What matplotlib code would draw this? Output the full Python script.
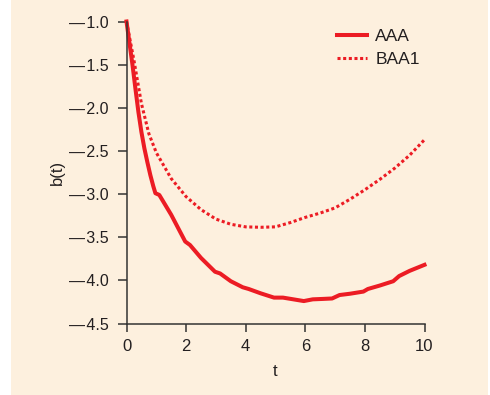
import matplotlib
matplotlib.use("Agg")
import matplotlib.pyplot as plt
from matplotlib.patches import Rectangle

# ---- data ----
t_aaa = [0, 0.1, 0.2, 0.3, 0.4, 0.5, 0.6, 0.7, 0.8, 0.9, 0.97, 1.1, 1.5, 1.97,
         2.13, 2.5, 2.97, 3.14, 3.5, 3.9, 4.1, 4.5, 4.95, 5.25, 5.6, 5.95,
         6.25, 6.6, 6.9, 7.15, 7.5, 7.95, 8.1, 8.5, 8.95, 9.15, 9.5, 10]
b_aaa = [-1.0, -1.25, -1.5, -1.78, -2.05, -2.28, -2.47, -2.63, -2.78, -2.91,
         -2.99, -3.01, -3.24, -3.55, -3.59, -3.74, -3.90, -3.92, -4.01, -4.08,
         -4.10, -4.15, -4.20, -4.20, -4.22, -4.24, -4.22, -4.215, -4.21, -4.17,
         -4.155, -4.13, -4.10, -4.06, -4.01, -3.95, -3.89, -3.82]

t_baa = [0, 0.25, 0.5, 0.75, 1, 1.5, 2, 2.5, 3, 3.5, 4, 4.5, 5, 5.5, 6, 6.5,
         7, 7.5, 8, 8.5, 9, 9.5, 10]
b_baa = [-1.0, -1.45, -1.95, -2.3, -2.52, -2.82, -3.03, -3.18, -3.29, -3.35,
         -3.38, -3.385, -3.38, -3.33, -3.27, -3.22, -3.16, -3.06, -2.95, -2.83,
         -2.70, -2.55, -2.37]

x_ticks = [0, 2, 4, 6, 8, 10]
y_ticks = [-1.0, -1.5, -2.0, -2.5, -3.0, -3.5, -4.0, -4.5]
labels = ["AAA", "BAA1"]

# ---- style ----
plt.rcParams['font.family'] = ['Liberation Sans', 'DejaVu Sans']
red = '#EC1C24'
bg = '#FDF0DE'
txt = '#231F20'
fs = 12

fig = plt.figure(figsize=(4.9, 3.95), dpi=100, facecolor='white')
bgax = fig.add_axes([11/490, 0, 1 - 13/490, 1], zorder=-10)
bgax.set_axis_off()
bgax.add_patch(Rectangle((0, 0), 1, 1, transform=bgax.transAxes, facecolor=bg, edgecolor='none'))

ax = fig.add_axes([126.5/490, 1 - 323.5/395, 298/490, 302/395], zorder=1)
ax.set_facecolor('none')

ax.plot(t_aaa, b_aaa, color=red, lw=2.9, solid_joinstyle='round', label=labels[0], clip_on=False)
ax.plot(t_baa, b_baa, color=red, lw=2.2, linestyle=(0, (1, 0.85)), dash_capstyle='butt',
        label=labels[1], clip_on=False)

ax.set_xlim(0, 10)
ax.set_ylim(-4.5, -1.0)
ax.set_xticks(x_ticks)
ax.set_yticks(y_ticks)
ax.set_yticklabels([f"\u2014\u200a{abs(v):.1f}" for v in y_ticks])

for s in ['top', 'right']:
    ax.spines[s].set_visible(False)
for s in ['left', 'bottom']:
    ax.spines[s].set_color('#333333')
    ax.spines[s].set_linewidth(1.1)

ax.tick_params(axis='y', length=6.7, width=1.1, color='#333333', pad=6, labelsize=11.5, labelcolor=txt)
ax.tick_params(axis='x', length=5.4, width=1.1, color='#333333', pad=6, labelsize=fs, labelcolor=txt)

ax.set_xlabel('t', fontsize=fs, color=txt, labelpad=7)
ax.set_ylabel('b(t)', fontsize=fs, color=txt, labelpad=3)

leg = ax.legend(loc='upper left', bbox_to_anchor=(0.706, 0.975), frameon=False,
                handlelength=1.74, handletextpad=0.48, labelspacing=0.45,
                borderpad=0, borderaxespad=0, fontsize=12.5)
for tx in leg.get_texts():
    tx.set_color(txt)

fig.savefig('out.png', dpi=100, facecolor=fig.get_facecolor())
